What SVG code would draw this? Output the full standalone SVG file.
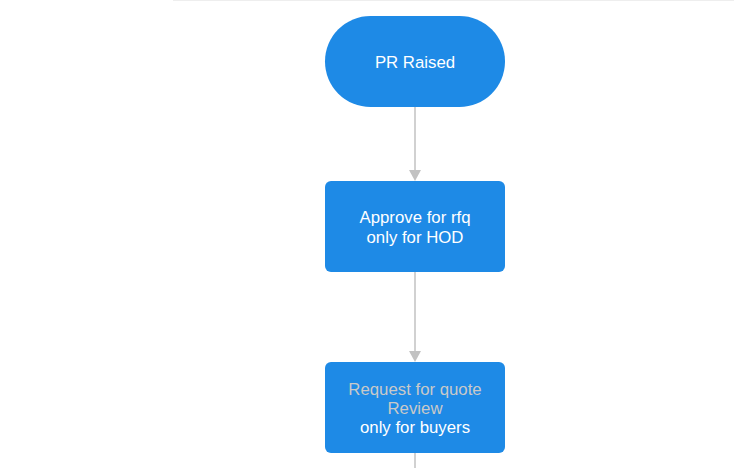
<svg xmlns="http://www.w3.org/2000/svg" width="734" height="468" viewBox="0 0 734 468">
<style>
.node{fill:#1e8ae6;}
.t{font-family:"Liberation Sans",Arial,sans-serif;font-size:16.8px;text-anchor:middle;fill:#ffffff;}
.dim{fill:#c9c9c9;}
.edge{stroke:#c2c2c2;stroke-width:1.5;fill:none;}
.head{fill:#c2c2c2;}
</style>
<rect width="734" height="468" fill="#ffffff"/>
<line x1="173" y1="0.5" x2="734" y2="0.5" stroke="#eeeeee" stroke-width="1"/>
<g id="connectors">
<line class="edge" x1="415" y1="107" x2="415" y2="171"/>
<path class="head" d="M409,170 L421,170 L415,181 Z"/>
<line class="edge" x1="415" y1="272" x2="415" y2="352"/>
<path class="head" d="M409,351 L421,351 L415,362 Z"/>
<line class="edge" x1="415" y1="453" x2="415" y2="468"/>
</g>
<g id="pr-raised">
<rect class="node" x="325" y="16" width="180" height="91" rx="45.5" ry="45.5"/>
<text class="t" x="415" y="68">PR Raised</text>
</g>
<g id="approve-rfq">
<rect class="node" x="325" y="181" width="180" height="91" rx="6" ry="6"/>
<text class="t" x="415" y="223">Approve for rfq</text>
<text class="t" x="415" y="243">only for HOD</text>
</g>
<g id="request-quote">
<rect class="node" x="325" y="362" width="180" height="91" rx="6" ry="6"/>
<text class="t dim" x="415" y="395">Request for quote</text>
<text class="t dim" x="415" y="414">Review</text>
<text class="t" x="415" y="433">only for buyers</text>
</g>
</svg>
